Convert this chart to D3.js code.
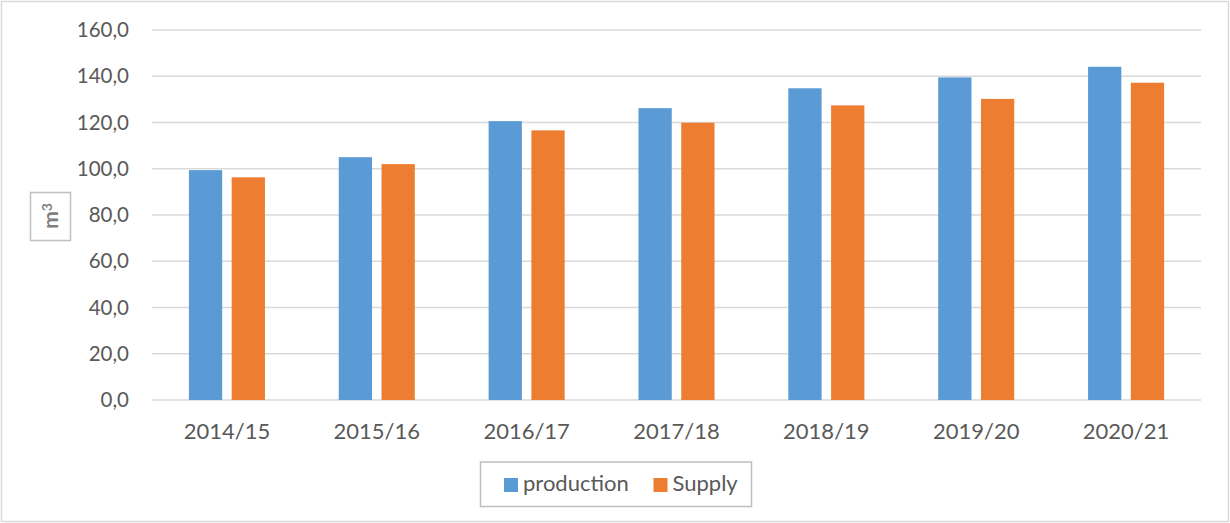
<!DOCTYPE html>
<html>
<head>
<meta charset="utf-8">
<script src="https://cdn.jsdelivr.net/npm/d3@7"></script>
<style>
  body { margin: 0; background: #fff; }
  svg { display: block; font-family: Lato, "Open Sans", sans-serif; }
</style>
</head>
<body>
<div id="chart"></div>
<script>
// Data
const seasons = ["2014/15", "2015/16", "2016/17", "2017/18", "2018/19", "2019/20", "2020/21"];
const production = [99.4, 105.0, 120.6, 126.2, 134.8, 139.5, 144.1];
const supply = [96.3, 102.0, 116.6, 119.9, 127.4, 130.2, 137.2];
const seriesNames = ["production", "Supply"];
const yTicks = [0, 20, 40, 60, 80, 100, 120, 140, 160];

const W = 1230, H = 523;
const margin = { top: 30, right: 29, bottom: 123, left: 152 };
const width = W - margin.left - margin.right;
const height = H - margin.top - margin.bottom;
const colors = ["#5b9bd5", "#ed7d31"];

const svg = d3.select("#chart").append("svg")
    .attr("width", W)
    .attr("height", H);

// outer chart border
svg.append("rect")
    .attr("x", 1.5).attr("y", 1.5)
    .attr("width", W - 3).attr("height", H - 3)
    .attr("fill", "none")
    .attr("stroke", "#d9d9d9")
    .attr("stroke-width", 1.5);

const g = svg.append("g")
    .attr("transform", `translate(${margin.left},${margin.top})`);

const x = d3.scaleBand().domain(seasons).range([0, width]);
const y = d3.scaleLinear().domain([0, 160]).range([height, 0]);

// gridlines
g.selectAll(".grid")
    .data(yTicks)
    .join("line")
    .attr("x1", 0).attr("x2", width)
    .attr("y1", d => y(d)).attr("y2", d => y(d))
    .attr("stroke", "#d9d9d9")
    .attr("stroke-width", 1.5);

// y tick labels
g.selectAll(".ylab")
    .data(yTicks)
    .join("text")
    .attr("x", -23)
    .attr("y", d => y(d))
    .attr("dy", "0.35em")
    .attr("text-anchor", "end")
    .style("font-size", "20.5px")
    .style("fill", "#595959")
    .text(d => d3.format(".1f")(d).replace(".", ","));

// x tick labels
g.selectAll(".xlab")
    .data(seasons)
    .join("text")
    .attr("x", d => x(d) + x.bandwidth() / 2)
    .attr("y", height + 39)
    .attr("text-anchor", "middle")
    .style("font-size", "22px")
    .style("fill", "#595959")
    .text(d => d);

// bars
const barW = x.bandwidth() * 0.222;
const barGap = 9.5;
const series = [production, supply];
series.forEach((vals, si) => {
    g.selectAll(".bar" + si)
        .data(vals)
        .join("rect")
        .attr("x", (d, i) => x(seasons[i]) + x.bandwidth() / 2 - barGap / 2 - barW + si * (barW + barGap))
        .attr("y", d => y(d))
        .attr("width", barW)
        .attr("height", d => y(0) - y(d))
        .attr("fill", colors[si]);
});

// axis title box "m³"
svg.append("rect")
    .attr("x", 30.5).attr("y", 192.5)
    .attr("width", 40).attr("height", 48)
    .attr("fill", "none")
    .attr("stroke", "#bfbfbf")
    .attr("stroke-width", 1.5);

const yTitle = svg.append("text")
    .attr("transform", "translate(58,216) rotate(-90)")
    .attr("text-anchor", "middle")
    .style("font-size", "21px")
    .style("font-weight", "bold")
    .style("fill", "#7f7f7f");
yTitle.append("tspan").text("m");
yTitle.append("tspan")
    .attr("dy", "-0.45em")
    .style("font-size", "14px")
    .text("3");

// legend
const legend = svg.append("g");
legend.append("rect")
    .attr("x", 480.5).attr("y", 462)
    .attr("width", 271).attr("height", 44.5)
    .attr("fill", "none")
    .attr("stroke", "#bfbfbf")
    .attr("stroke-width", 1.5);

const legendX = [504, 653.5];
seriesNames.forEach((name, i) => {
    legend.append("rect")
        .attr("x", legendX[i]).attr("y", 478)
        .attr("width", 14).attr("height", 14)
        .attr("fill", colors[i]);
    legend.append("text")
        .attr("x", legendX[i] + 19)
        .attr("y", 491)
        .style("font-size", "22px")
        .style("fill", "#595959")
        .text(name);
});
</script>
</body>
</html>
